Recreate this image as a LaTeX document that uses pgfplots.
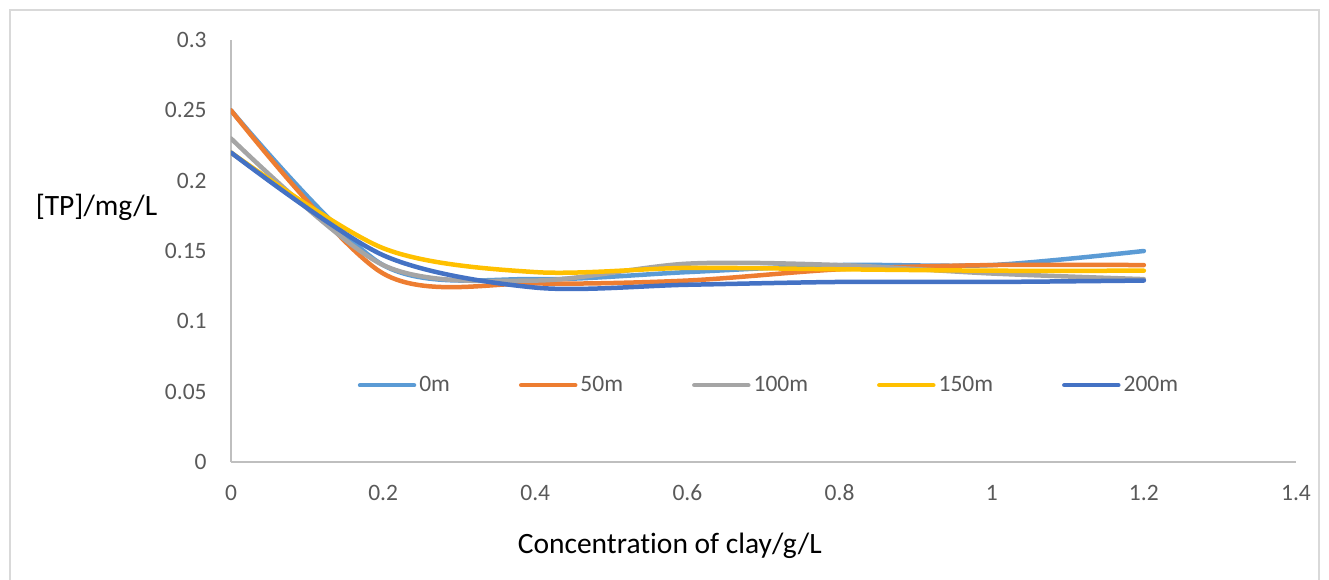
\documentclass[border=0pt]{standalone}
\usepackage{pgfplots}
\pgfplotsset{compat=1.18}
\usepackage{fontspec}
\setmainfont{Carlito}[Ligatures=NoCommon]

\definecolor{c0}{HTML}{5B9BD5}
\definecolor{c50}{HTML}{ED7D31}
\definecolor{c100}{HTML}{A5A5A5}
\definecolor{c150}{HTML}{FFC000}
\definecolor{c200}{HTML}{4472C4}
\definecolor{ticktext}{HTML}{595959}
\definecolor{axisgray}{HTML}{BFBFBF}

\begin{document}
\begin{tikzpicture}
\useasboundingbox (-115.5pt,-58.5pt) rectangle (549pt,231pt);
% outer chart frame
\draw[black!15, line width=0.75pt] (-110.5pt,-80pt) -- (-110.5pt,226pt) -- (544pt,226pt) -- (544pt,-80pt);
\begin{axis}[
  at={(0,0)}, anchor=south west,
  scale only axis, width=532.5pt, height=211pt,
  xmin=0, xmax=1.4, ymin=0, ymax=0.3,
  axis x line*=bottom, axis y line*=left,
  axis line style={axisgray, line width=0.75pt, -},
  tick style={draw=none},
  xtick={0,0.2,0.4,0.6,0.8,1,1.2,1.4},
  xticklabels={0,0.2,0.4,0.6,0.8,1,1.2,1.4},
  ytick={0,0.05,0.1,0.15,0.2,0.25,0.3},
  yticklabels={0,0.05,0.1,0.15,0.2,0.25,0.3},
  ticklabel style={font=\fontsize{11.75}{14}\selectfont, text=ticktext, inner sep=0pt},
  xticklabel style={anchor=center, yshift=-15.5pt},
  yticklabel style={anchor=east, xshift=-12pt},
  xlabel={Concentration of clay/g/L},
  ylabel={[TP]/mg/L},
  label style={font=\fontsize{14.75}{17}\selectfont},
  xlabel style={at={(axis description cs:0.412,0)}, anchor=center, yshift=-42pt},
  ylabel style={at={(axis description cs:0,0.604)}, anchor=center, rotate=-90, xshift=-67.25pt},
  legend style={at={(0.5056,0.182)}, anchor=center, draw=none, fill=none,
    legend columns=5, font=\fontsize{11.75}{14}\selectfont, text=ticktext,
    nodes={inner sep=1.5pt},
    /tikz/every even column/.append style={column sep=33pt}},
  legend image code/.code={\draw[#1, line width=2.25pt, line cap=round] (0pt,0pt) -- (27pt,0pt);},
  every axis plot/.append style={smooth, tension=0.5, line width=2.25pt, line cap=round, mark=none},
]
\addplot[c0] coordinates {(0,0.25) (0.2,0.140) (0.4,0.130) (0.6,0.135) (0.8,0.140) (1,0.140) (1.2,0.150)};
\addplot[c50] coordinates {(0,0.25) (0.2,0.134) (0.4,0.127) (0.6,0.129) (0.8,0.137) (1,0.140) (1.2,0.140)};
\addplot[c100] coordinates {(0,0.23) (0.2,0.140) (0.4,0.129) (0.6,0.141) (0.8,0.140) (1,0.134) (1.2,0.130)};
\addplot[c150] coordinates {(0,0.22) (0.2,0.152) (0.4,0.135) (0.6,0.138) (0.8,0.137) (1,0.136) (1.2,0.136)};
\addplot[c200] coordinates {(0,0.22) (0.2,0.147) (0.4,0.124) (0.6,0.126) (0.8,0.128) (1,0.128) (1.2,0.129)};
\legend{0m,50m,100m,150m,200m}
\end{axis}
\end{tikzpicture}
\end{document}
